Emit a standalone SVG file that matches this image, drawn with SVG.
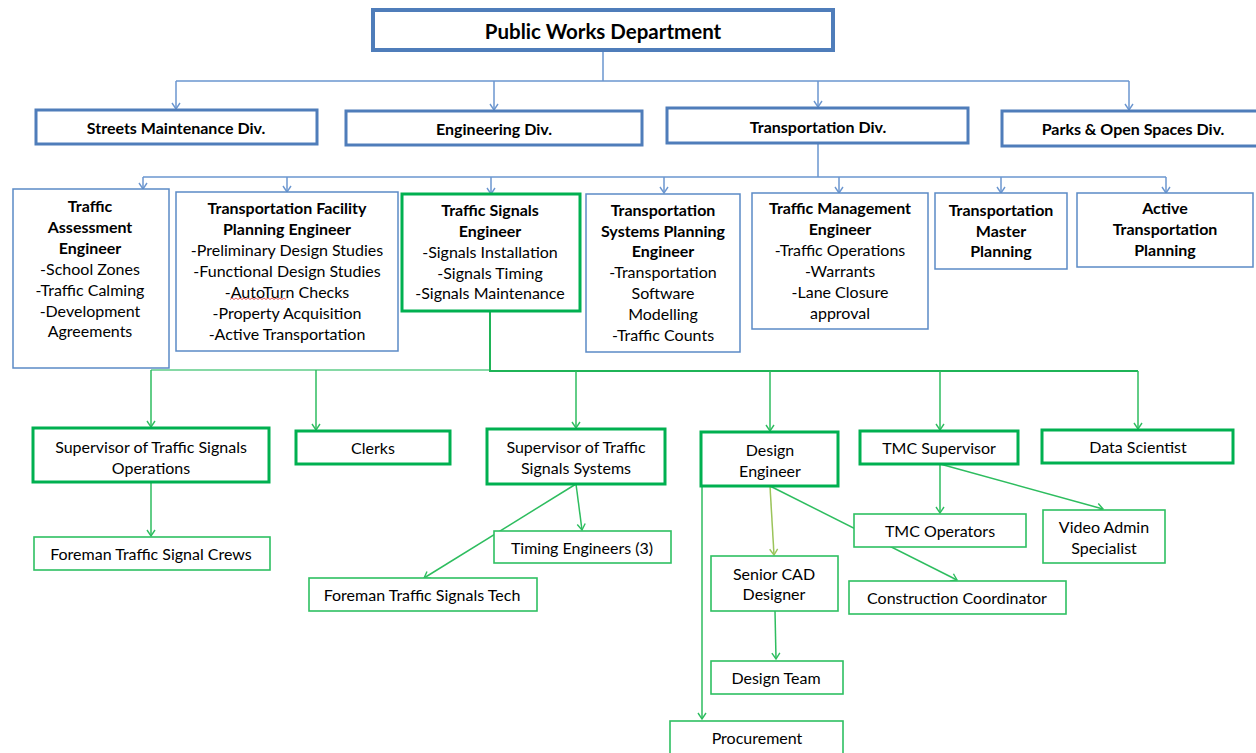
<svg xmlns="http://www.w3.org/2000/svg" width="1256" height="753" viewBox="0 0 1256 753">
<style>
text{font-family:Lato,"Open Sans","Liberation Sans",sans-serif;fill:#000;text-anchor:middle;dominant-baseline:central}
.b{font-weight:bold}
.t1{font-size:20.5px;font-weight:bold}
.t2{font-size:16px;font-weight:bold}
.t3{font-size:16px}
.top{fill:#fff;stroke:#4f7dba;stroke-width:4}
.div{fill:#fff;stroke:#4f7dba;stroke-width:3}
.bb{fill:#fff;stroke:#5b8ac6;stroke-width:1.5}
.gk{fill:#fff;stroke:#00b050;stroke-width:3}
.gt{fill:#fff;stroke:#2ec062;stroke-width:1.6}
.cb{fill:none;stroke:#6b96cf;stroke-width:1.5}
.cg{fill:none;stroke:#2ebd5f;stroke-width:1.5}
.cgl{fill:none;stroke:#86d9a6;stroke-width:2}
.co{fill:none;stroke:#9bc45a;stroke-width:1.5}
</style>
<defs>
<marker id="ab" markerUnits="userSpaceOnUse" markerWidth="12" markerHeight="12" viewBox="-8 -6 10 12" refX="0" refY="0" orient="auto"><path d="M-6,-4 L0,0 L-6,4" fill="none" stroke="#6b96cf" stroke-width="1.4"/></marker>
<marker id="ag" markerUnits="userSpaceOnUse" markerWidth="12" markerHeight="12" viewBox="-8 -6 10 12" refX="0" refY="0" orient="auto"><path d="M-6,-4 L0,0 L-6,4" fill="none" stroke="#2ebd5f" stroke-width="1.4"/></marker>
<marker id="ao" markerUnits="userSpaceOnUse" markerWidth="12" markerHeight="12" viewBox="-8 -6 10 12" refX="0" refY="0" orient="auto"><path d="M-6,-4 L0,0 L-6,4" fill="none" stroke="#9bc45a" stroke-width="1.4"/></marker>
</defs>
<rect width="1256" height="753" fill="#fff"/>

<g id="connectors">
<path class="cb" d="M603,50 V81 M176,81 H1129 M818,143 V177 M143,177 H1166"/>
<path class="cb" marker-end="url(#ab)" d="M176,81 V109"/>
<path class="cb" marker-end="url(#ab)" d="M494,81 V110"/>
<path class="cb" marker-end="url(#ab)" d="M818,81 V107"/>
<path class="cb" marker-end="url(#ab)" d="M1129,81 V110"/>
<path class="cb" marker-end="url(#ab)" d="M143,177 V189"/>
<path class="cb" marker-end="url(#ab)" d="M287,177 V192"/>
<path class="cb" marker-end="url(#ab)" d="M491,177 V194"/>
<path class="cb" marker-end="url(#ab)" d="M664,177 V193"/>
<path class="cb" marker-end="url(#ab)" d="M839,177 V193"/>
<path class="cb" marker-end="url(#ab)" d="M1001,177 V193"/>
<path class="cb" marker-end="url(#ab)" d="M1166,177 V193"/>
<path class="cgl" d="M151,370 H490"/>
<path class="cg" style="stroke:#1fb457;stroke-width:2" d="M490,311 V371 H1138"/>
<path class="cg" marker-end="url(#ag)" d="M151,370 V427"/>
<path class="cg" marker-end="url(#ag)" d="M316,370 V430"/>
<path class="cg" marker-end="url(#ag)" d="M576,371 V428"/>
<path class="cg" marker-end="url(#ag)" d="M770,371 V431"/>
<path class="cg" marker-end="url(#ag)" d="M940,371 V430"/>
<path class="cg" marker-end="url(#ag)" d="M1138,371 V429"/>
<path class="cg" marker-end="url(#ag)" d="M151,482 V536"/>
<path class="cg" marker-end="url(#ag)" d="M576,484 L582,530"/>
<path class="cg" marker-end="url(#ag)" d="M576,484 L424,578"/>
<path class="co" marker-end="url(#ao)" d="M770,486 L774,555"/>
<path class="cg" marker-end="url(#ag)" d="M770,486 L957,580"/>
<path class="cg" marker-end="url(#ag)" d="M702,486 V719"/>
<path class="cg" marker-end="url(#ag)" d="M775,611 L776,659"/>
<path class="cg" marker-end="url(#ag)" d="M940,464 V513"/>
<path class="cg" marker-end="url(#ag)" d="M940,464 L1103,509"/>
</g>

<g id="public-works"><rect class="top" x="373" y="10" width="460" height="40"/><text class="t1" x="603" y="31">Public Works Department</text></g>
<g id="streets"><rect class="div" x="36" y="110" width="281" height="34"/><text class="t2" x="176" y="127">Streets Maintenance Div.</text></g>
<g id="engineering"><rect class="div" x="346" y="111" width="296" height="34"/><text class="t2" x="494" y="128">Engineering Div.</text></g>
<g id="transportation"><rect class="div" x="667" y="108" width="301" height="35"/><text class="t2" x="818" y="126">Transportation Div.</text></g>
<g id="parks"><rect class="div" x="1002" y="111" width="256" height="35"/><text class="t2" x="1133" y="128">Parks &amp; Open Spaces Div.</text></g>

<g id="traffic-assessment" class="t3"><rect class="bb" x="13" y="189" width="156" height="179"/>
<text x="90" y="205" class="b">Traffic</text><text x="90" y="226" class="b">Assessment</text><text x="90" y="247" class="b">Engineer</text>
<text x="90" y="268">-School Zones</text><text x="90" y="289">-Traffic Calming</text><text x="90" y="310">-Development</text><text x="90" y="330">Agreements</text></g>

<g id="facility-planning" class="t3"><rect class="bb" x="176" y="192" width="222" height="159"/>
<text x="287" y="207" class="b">Transportation Facility</text><text x="287" y="228" class="b">Planning Engineer</text>
<text x="287" y="249">-Preliminary Design Studies</text><text x="287" y="270">-Functional Design Studies</text><text x="287" y="291">-AutoTurn Checks</text>
<text x="287" y="312">-Property Acquisition</text><text x="287" y="333">-Active Transportation</text>
<path d="M230,299.5 l2,-1.5 2,1.5 2,-1.5 2,1.5 2,-1.5 2,1.5 2,-1.5 2,1.5 2,-1.5 2,1.5 2,-1.5 2,1.5 2,-1.5 2,1.5 2,-1.5 2,1.5 2,-1.5 2,1.5 2,-1.5 2,1.5 2,-1.5 2,1.5 2,-1.5 2,1.5 2,-1.5 2,1.5 2,-1.5 2,1.5" fill="none" stroke="#e03030" stroke-width="0.8"/></g>

<g id="traffic-signals" class="t3"><rect class="gk" x="402" y="194" width="178" height="117"/>
<text x="490" y="209" class="b">Traffic Signals</text><text x="490" y="230" class="b">Engineer</text>
<text x="490" y="251">-Signals Installation</text><text x="490" y="272">-Signals Timing</text><text x="490" y="292">-Signals Maintenance</text></g>

<g id="systems-planning" class="t3"><rect class="bb" x="586" y="194" width="154" height="158"/>
<text x="663" y="209" class="b">Transportation</text><text x="663" y="230" class="b">Systems Planning</text><text x="663" y="250" class="b">Engineer</text>
<text x="663" y="271">-Transportation</text><text x="663" y="292">Software</text><text x="663" y="313">Modelling</text><text x="663" y="334">-Traffic Counts</text></g>

<g id="traffic-management" class="t3"><rect class="bb" x="752" y="193" width="176" height="136"/>
<text x="840" y="207" class="b">Traffic Management</text><text x="840" y="228" class="b">Engineer</text>
<text x="840" y="249">-Traffic Operations</text><text x="840" y="270">-Warrants</text><text x="840" y="291">-Lane Closure</text><text x="840" y="312">approval</text></g>

<g id="master-planning" class="t3"><rect class="bb" x="935" y="193" width="132" height="76"/>
<text x="1001" y="209" class="b">Transportation</text><text x="1001" y="230" class="b">Master</text><text x="1001" y="250" class="b">Planning</text></g>

<g id="active-planning" class="t3"><rect class="bb" x="1077" y="193" width="176" height="74"/>
<text x="1165" y="207" class="b">Active</text><text x="1165" y="228" class="b">Transportation</text><text x="1165" y="249" class="b">Planning</text></g>

<g id="sup-ops" class="t3"><rect class="gk" x="33" y="428" width="236" height="54"/>
<text x="151" y="446">Supervisor of Traffic Signals</text><text x="151" y="467">Operations</text></g>
<g id="clerks" class="t3"><rect class="gk" x="296" y="431" width="154" height="33"/><text x="373" y="447">Clerks</text></g>
<g id="sup-systems" class="t3"><rect class="gk" x="487" y="429" width="178" height="55"/>
<text x="576" y="446">Supervisor of Traffic</text><text x="576" y="467">Signals Systems</text></g>
<g id="design-engineer" class="t3"><rect class="gk" x="701" y="432" width="137" height="54"/>
<text x="770" y="449">Design</text><text x="770" y="470">Engineer</text></g>
<g id="tmc-supervisor" class="t3"><rect class="gk" x="860" y="431" width="158" height="33"/><text x="939" y="447">TMC Supervisor</text></g>
<g id="data-scientist" class="t3"><rect class="gk" x="1042" y="430" width="191" height="33"/><text x="1138" y="446">Data Scientist</text></g>

<g id="foreman-crews" class="t3"><rect class="gt" x="34" y="537" width="236" height="33"/><text x="151" y="553">Foreman Traffic Signal Crews</text></g>
<g id="timing-engineers" class="t3"><rect class="gt" x="494" y="531" width="177" height="32"/><text x="582" y="547">Timing Engineers (3)</text></g>
<g id="foreman-tech" class="t3"><rect class="gt" x="309" y="578" width="228" height="33"/><text x="422" y="594">Foreman Traffic Signals Tech</text></g>
<g id="tmc-operators" class="t3"><rect class="gt" x="854" y="514" width="172" height="33"/><text x="940" y="530">TMC Operators</text></g>
<g id="video-admin" class="t3"><rect class="gt" x="1043" y="510" width="122" height="53"/>
<text x="1104" y="526">Video Admin</text><text x="1104" y="547">Specialist</text></g>
<g id="senior-cad" class="t3"><rect class="gt" x="711" y="556" width="127" height="55"/>
<text x="774" y="573">Senior CAD</text><text x="774" y="593">Designer</text></g>
<g id="construction-coordinator" class="t3"><rect class="gt" x="849" y="581" width="217" height="33"/><text x="957" y="597">Construction Coordinator</text></g>
<g id="design-team" class="t3"><rect class="gt" x="711" y="661" width="132" height="33"/><text x="776" y="677">Design Team</text></g>
<g id="procurement" class="t3"><rect class="gt" x="670" y="721" width="173" height="40"/><text x="757" y="737">Procurement</text></g>
</svg>
